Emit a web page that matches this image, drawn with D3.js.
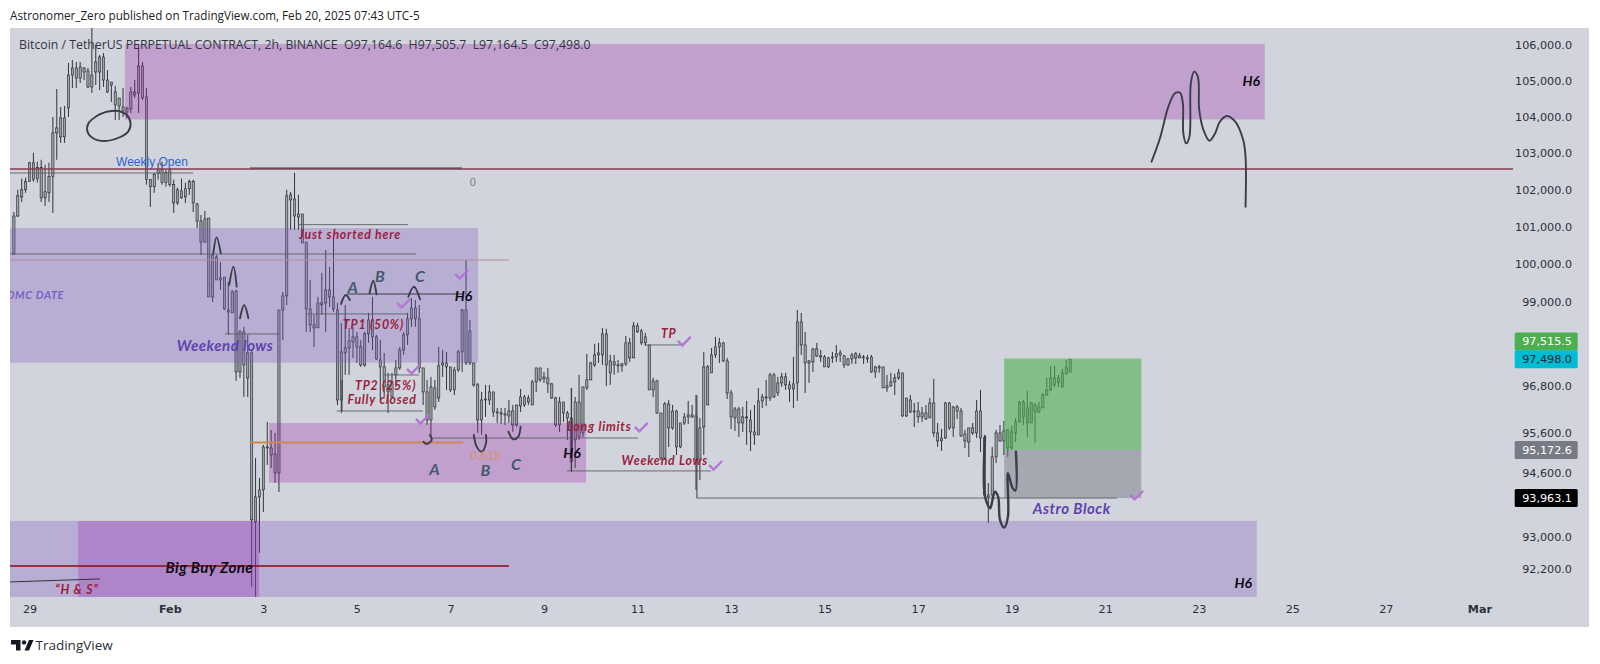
<!DOCTYPE html>
<html>
<head>
<meta charset="utf-8">
<title>BTCUSDT 2h</title>
<script src="https://cdn.jsdelivr.net/npm/d3@7"></script>
<style>
    html, body { margin: 0; background: #fff; }
    svg { display: block; }
    .axis text { font-family: "DejaVu Sans", sans-serif; font-size: 11.2px; fill: #2e3038; }
    .axis path, .axis line { display: none; }
</style>
</head>
<body>
<div id="graph"></div>
<script>
// days are counted from Jan 29 00:00, one bar is two hours
const firstBarDay = -1 / 3;

const opens = [
    100267,101285,101800,101994,102215,102730,102297,102595,101775,101912,102351,103550,
    103440,103962,104238,105157,105353,105073,105353,105269,104822,105241,105241,105662,
    105017,104961,104683,104516,104266,104128,104211,104600,104655,105409,104544,102270,
    102077,102432,102540,102188,102540,102132,101638,101967,101802,102022,102215,101611,
    101150,100587,101231,99127,100187,99576,99655,98785,98707,99285,97170,98210,
    97662,97662,93991,93991,94166,95224,95224,95072,94592,98785,99154,101720,
    101747,101340,101340,100587,98812,98392,98314,98917,98970,99312,99127,98785,
    96447,97792,97792,97949,98079,97818,97350,98157,98523,98079,97480,97299,
    96835,96525,97093,97273,97740,98132,98549,98838,98549,97273,96654,95936,
    96757,96498,97350,97402,97299,96705,97222,97688,98785,97402,97402,96835,
    95936,96447,96447,96654,96140,96114,96089,96038,96165,95808,96293,96525,
    96396,96319,96912,97273,96990,97015,96860,96498,95808,96396,96114,95987,
    95427,96396,95605,96757,96964,97350,97610,97610,98157,97454,97350,97350,
    97325,97376,97923,97532,98366,98236,97923,97870,96705,96938,96114,94970,
    96345,95732,96165,95249,95859,96012,96063,96038,94920,95757,97299,97145,
    97610,97818,97923,97454,96628,95987,96216,95859,96012,95936,95554,95554,
    96422,96498,96498,97093,96628,96886,97041,96835,96731,96886,98471,97870,
    97402,97428,97766,97584,97558,97299,97532,97558,97610,97584,97350,97506,
    97636,97532,97558,97532,97558,97170,97299,97299,96757,96809,96912,97015,
    97145,96038,96447,96140,96165,96012,96114,95987,96370,95605,95401,95477,
    96370,95732,96268,96165,95401,95732,95605,95605,96165,95477,93991,94041,
    94996,95605,95401,95681,95224,95605,95885,96396,96242,95859,96319,96140,
    96242,96576,96705,97015,96886,96783,97119,97164.6
];
const highs = [
    101393,101994,102297,102324,102758,103003,102758,102812,102676,102730,103990,104766,
    104266,104294,105494,105578,105522,105522,105381,105353,106480,106000,105718,105775,
    105297,104961,104850,104516,104794,104266,104822,105017,106000,105522,104794,102270,
    102459,102730,102758,102540,102595,102270,102049,102297,102188,102270,102270,101638,
    101312,101420,101231,100293,100240,100054,99655,99523,99312,99312,98262,98340,
    98132,97740,94970,94466,95300,95885,95681,95605,98785,99259,101994,101940,
    102459,101857,101340,100587,99576,98654,99127,99761,100373,99921,100694,98970,
    98445,98917,98314,98340,98210,98001,98210,98707,99127,98132,98001,97662,
    97145,97145,97480,97818,98210,98707,99100,99048,98917,97273,96964,97041,
    96964,97818,97740,97688,97299,97299,97740,98812,100107,98523,97402,96886,
    96654,96835,96835,96654,96242,96242,96242,96447,96319,96319,96731,96576,
    96576,96964,97273,97273,97170,97273,96886,96525,96525,96396,96165,96757,
    96525,97093,96783,97636,97428,97896,97923,98314,98288,97610,97610,97480,
    97402,98106,98053,98471,98445,98288,98184,97870,97015,96964,96114,96396,
    96447,96319,96191,95859,96114,96422,96319,96576,95987,97688,97350,97792,
    98079,98053,97949,97532,96705,96268,96268,96268,96422,96191,96319,96757,
    96602,96964,97145,97145,97041,97145,97145,96938,97558,98785,98707,98210,
    97480,97792,97923,97740,97610,97558,97688,97870,97740,97610,97532,97662,
    97688,97662,97610,97610,97610,97325,97350,97299,97093,97145,97119,97248,
    97145,96498,96576,96370,96396,96268,96319,96498,96990,95859,95706,96396,
    96396,96293,96319,96242,95681,95732,95859,96447,96705,95554,94340,95249,
    95681,95808,95910,95706,95783,95987,96422,96447,96680,96396,96370,96396,
    96628,97015,97325,97325,97093,97248,97480,97505.7
];
const lows = [
    100240,101258,101665,101912,102215,102215,102188,101665,101556,101665,101366,102812,
    103276,103276,103990,104794,104794,104933,105017,104794,104655,104877,104738,104822,
    104655,104405,103907,103907,103990,103962,104100,104516,104100,104461,102132,101529,
    101912,102270,102132,102077,102077,101366,101583,101747,101638,101857,101393,100962,
    100240,100560,99127,98995,99576,99312,98785,98132,98707,96938,97015,96525,
    96525,91770,91526,92602,93617,94794,94718,94340,94116,98001,98917,100908,
    100908,100908,100560,98210,98210,97818,98314,98654,98210,98864,98733,96319,
    96114,97093,97093,97532,97402,97299,97299,97923,97740,97480,96447,96525,
    96114,96498,96783,97222,97610,97870,98340,98340,97145,96319,95808,95503,
    96191,96396,97041,96705,96654,96576,97170,97170,97350,97350,96783,95605,
    95554,96012,96319,96012,95859,95834,95808,95859,95632,95757,96140,96268,
    96319,96319,96654,96912,96886,96628,96473,95757,95630,95885,95427,94617,
    94718,95427,95503,96705,96964,97299,97402,97350,96809,96835,97093,97145,
    97170,97325,97428,97532,98184,97870,97844,96705,96525,96089,94920,94920,
    95249,95681,95046,95224,95808,95834,95987,94166,94416,95046,96319,97145,
    97532,97402,97428,96473,95706,95655,95503,95630,95300,95148,95300,95554,
    96242,96293,96422,96498,96550,96783,96705,96396,96242,96422,97610,96628,
    96886,97170,97558,97428,97299,97273,97402,97428,97428,97273,97325,97376,
    97376,97532,97376,97402,97145,97015,97145,96757,96654,96783,96576,96964,
    96012,96012,96114,95757,95859,95885,95936,95987,95503,95249,95148,95452,
    95681,95503,95961,95503,95224,94996,95554,95477,95122,93991,93344,93991,
    94844,95376,95046,94996,95173,95376,95859,95808,95503,95859,95351,96114,
    96242,96550,96680,96783,96783,96757,97093,97164.5
];
const closes = [
    101285,101830,101994,102215,102730,102270,102595,101775,101940,102351,103550,103687,
    103962,103440,105157,105353,105073,105381,105241,104822,105157,105522,105662,105017,
    104683,104877,104322,104294,104155,104238,104683,104683,105409,104516,102270,102077,
    102405,102540,102188,102459,102132,101638,101994,101775,102022,102215,101638,101150,
    100587,101204,99127,100240,99576,99629,98812,98733,99259,97170,98210,97350,
    97015,93419,93369,94166,95249,95249,95046,94592,98785,99154,101830,101857,
    101285,101258,100560,98812,98392,98314,98970,98970,99312,99127,98812,96447,
    97688,97662,97975,98079,97818,97350,98157,98523,98079,97506,97299,96783,
    96654,96912,97273,97740,98132,98549,98838,98549,97273,96654,95936,96783,
    96268,97325,97402,97299,96705,97222,97688,98785,97402,98236,96835,95936,
    96447,96473,96654,96140,96114,96089,96063,96165,95808,96319,96525,96319,
    96498,96912,97273,96964,97041,96860,96498,95808,96396,96114,95987,94870,
    96396,95503,96783,96964,97402,97610,97662,98157,97350,97145,97428,97325,
    97376,97923,97532,98366,98210,97923,98079,96705,96938,96114,94970,96345,
    95732,96165,95249,95859,96012,96063,96012,94920,95732,97299,96319,97610,
    97818,97923,97454,96628,96012,96216,95859,96012,95987,95630,95630,96422,
    96525,96525,97093,96525,96886,97041,96835,96731,96860,98471,97870,97402,
    97454,97766,97584,97558,97299,97532,97558,97636,97662,97350,97506,97610,
    97532,97584,97532,97506,97170,97299,97273,96757,96809,96912,97015,97145,
    96038,96498,96140,96165,96012,96114,95961,96370,95605,95401,95477,96370,
    95732,96268,96165,95528,95579,95376,95732,96165,95477,94041,94041,94996,
    95605,95401,95655,95224,95630,95885,96396,96012,95859,96370,96140,96268,
    96576,96705,97015,96835,97015,97145,97273,97498
];

// axis ticks
const priceTicks = [106000, 105000, 104000, 103000, 102000, 101000, 100000, 99000, 96800, 95600, 94600, 93000, 92200];
const dayTickLabels = ["29", "Feb", "3", "5", "7", "9", "11", "13", "15", "17", "19", "21", "23", "25", "27", "Mar"];
const dayTickValues = [0, 3, 5, 7, 9, 11, 13, 15, 17, 19, 21, 23, 25, 27, 29, 31];

// highlighted zones on the chart
const zoneKinds = ["pink", "violet", "pink", "violet", "pink", "green", "grey"];
const zoneFrom = [2.04, -0.42, 5.12, -0.42, 1.04, 20.84, 20.84];
const zoneTo = [26.41, 9.59, 11.90, 26.24, 4.91, 23.77, 23.77];
const zoneHigh = [106028, 100963, 95859, 93392, 93392, 97515.5, 95172.6];
const zoneLow = [103920, 97409, 94349, 91522, 91522, 95172.6, 93963.1];

// horizontal levels
const levelKinds = ["red", "grey", "dark", "grey", "rose", "grey", "dark", "grey", "grey", "grey", "grey", "orange", "grey", "grey", "grey", "grey", "maroon"];
const levelPrices = [102560, 102451, 102588, 100267, 100106, 101053, 99206, 98680, 97091, 96165, 98156, 95359, 95476, 94643, 97869, 93963.1, 92280];
const levelFrom = [-0.42, -0.42, 4.71, -0.42, -0.42, 5.74, 6.79, 5.93, 7.56, 6.57, 4.18, 4.71, 8.60, 11.49, 13.18, 14.27, -0.42];
const levelTo = [31.73, 3.50, 9.25, 8.26, 10.25, 8.09, 9.27, 8.09, 8.33, 8.41, 5.36, 9.27, 13.01, 14.57, 13.97, 23.25, 10.25];

// vertical strokes next to the levels, and the H & S trend line
const stemDays = [11.59, 14.27, 6.68];
const stemTop = [96756, 96576, 96962];
const stemBottom = [94643, 93963.1, 96165];
const trendDays = [-0.42, 1.51];
const trendPrices = [91889, 91962];

// hand drawn strokes
const scribbleDays = [
    [23.99,24.17,24.35,24.49,24.60,24.66,24.67,24.73,24.80,24.83,24.90,24.98,25.01,25.10,25.23,25.35,25.45,25.60,25.78,25.95,26.00,26.00],
    [1.65,1.90,2.08,2.16,2.11,1.93,1.61,1.36,1.24,1.26,1.44,1.65],
    [3.93,4.00,4.09],
    [4.27,4.36,4.43],
    [4.50,4.59,4.68],
    [6.66,6.76,6.85],
    [7.27,7.35,7.42],
    [8.10,8.22,8.35],
    [8.56,8.60,8.49,8.42],
    [9.50,9.56,9.67,9.76,9.76],
    [10.24,10.34,10.45,10.50],
    [20.43,20.43,20.54,20.59,20.64,20.71,20.75,20.84,20.92,20.92,21.02,21.08,21.09]
];
const scribblePrices = [
    [102760,103402,104275,104646,104663,104369,103539,103264,103446,104925,105250,105110,104183,103630,103335,103539,103859,104017,103859,103355,102897,101536],
    [104135,104154,104044,103815,103584,103430,103327,103402,103584,103815,104017,104135],
    [100285,100710,100285],
    [99447,99930,99402],
    [98568,98917,98568],
    [98943,99180,99048],
    [99224,99556,99197],
    [99135,99398,99066],
    [95554,95426,95325,95383],
    [95554,95257,95130,95342,95554],
    [95637,95444,95510,95764],
    [95510,93999,93708,93916,94124,93999,93420,93230,93502,94586,94210,94150,95130]
];

// check marks
const checkDays = [9.23, 7.99, 8.20, 8.39, 13.07, 14.66, 13.99, 23.66];
const checkPrices = [99709, 98943, 97220, 95936, 95733, 94768, 97947, 94016];

// text on the chart
const noteTexts = ["Weekly Open", "Just shorted here", "FOMC DATE", "Weekend lows", "A", "B", "C", "H6", "TP1 (50%)", "TP2 (25%)", "Fully closed", "A", "B", "C", "0.618", "H6", "Long limits", "Weekend Lows", "TP", "Astro Block", "H6", "H6", "Big Buy Zone", "\u201CH & S\u201D", "0"];
const noteKinds = ["blue", "red", "date", "purple", "letter", "letter", "letter", "h6", "red", "red", "red", "letter", "letter", "letter", "fib", "h6", "red", "red", "red", "purple", "h6", "h6", "buy", "red", "zero"];
const noteDays = [1.85, 5.76, 0.74, 3.15, 6.91, 7.49, 8.35, 9.28, 6.70, 6.96, 6.80, 8.66, 9.75, 10.40, 9.43, 11.60, 11.49, 12.66, 13.50, 21.45, 26.12, 25.95, 2.91, 0.55, 9.48];
const notePrices = [102752, 100775, 99180, 97844, 99382, 99682, 99682, 99161, 98393, 96816, 96465, 94687, 94650, 94812, 95021, 95105, 95757, 94902, 98156, 93691, 104981, 91865, 92230, 91695, 102206];

// price tags on the axis
const tagValues = [97515.5, 97498.0, 95172.6, 93963.1];
const tagKinds = ["target", "last", "entry", "stop"];

// title text
const pageTitle = "Astronomer_Zero published on TradingView.com, Feb 20, 2025 07:43 UTC-5";
const symbolTitle = "Bitcoin / TetherUS PERPETUAL CONTRACT, 2h, BINANCE  O97,164.6  H97,505.7  L97,164.5  C97,498.0";

const width = 1600, height = 664;
const paneLeft = 10, paneRight = 1589, paneTop = 28, paneBottom = 597, paneEnd = 627;

const x = d3.scaleLinear().domain([0, 31]).range([29.5, 1479.4]);
const y = d3.scaleLog().domain([106000, 91453]).range([45, 599.8]);

const zoneFill = {
    pink: ["rgb(156,39,176)", 0.3],
    violet: ["rgb(126,87,194)", 0.3],
    green: ["rgb(76,175,80)", 0.6],
    grey: ["rgb(120,123,134)", 0.5]
};
const levelStyle = {
    red: ["#8a3b4c", 1.3],
    grey: ["#5d5f68", 0.9],
    dark: ["#3a3a40", 1.1],
    rose: ["#b88a94", 1.2],
    orange: ["#cc8a4c", 2],
    maroon: ["#8b0a12", 1.4]
};
const noteStyle = {
    blue: { font: "Liberation Sans", size: 12, fill: "#2f62cc", weight: 400, style: "normal" },
    red: { font: "Lato", size: 12.3, fill: "#9a1f3c", weight: 700, style: "italic", spacing: 0.8 },
    date: { font: "Lato", size: 11, fill: "#7a60c4", weight: 700, style: "italic", spacing: 0.6, anchor: "end" },
    purple: { font: "Lato", size: 15, fill: "#5f43ad", weight: 700, style: "italic", spacing: 0.5 },
    letter: { font: "Lato", size: 16, fill: "#425a6c", weight: 700, style: "italic", anchor: "middle" },
    h6: { font: "Lato", size: 14, fill: "#0c0c12", weight: 700, style: "italic", anchor: "middle" },
    fib: { font: "Liberation Sans", size: 12, fill: "#d59468", weight: 400, style: "normal" },
    buy: { font: "Lato", size: 15, fill: "#0c0c12", weight: 700, style: "italic", spacing: 0.4 },
    zero: { font: "Liberation Sans", size: 11, fill: "#787b86", weight: 400, style: "normal", anchor: "middle" }
};
const tagStyle = {
    target: ["#4caf50", "#fff"],
    last: ["#00bcd4", "#10262c"],
    entry: ["#787b86", "#fff"],
    stop: ["#000", "#fff"]
};
// the target tag is pushed up so the two close tags stack
const tagShift = { target: -17, last: 0, entry: 0, stop: 0 };

const bars = d3.range(closes.length).map(i => ({
    day: firstBarDay + i / 12,
    open: opens[i],
    high: highs[i],
    low: lows[i],
    close: closes[i]
}));

const svg = d3.select("#graph").append("svg")
    .attr("width", width)
    .attr("height", height)
    .attr("viewBox", `0 0 ${width} ${height}`);

svg.append("rect")
    .attr("x", paneLeft).attr("y", paneTop)
    .attr("width", paneRight - paneLeft).attr("height", paneEnd - paneTop)
    .attr("fill", "#d1d4dc");

svg.append("clipPath").attr("id", "pane").append("rect")
    .attr("x", paneLeft).attr("y", paneTop)
    .attr("width", 1513 - paneLeft).attr("height", paneBottom - paneTop);

const plot = svg.append("g").attr("clip-path", "url(#pane)");

// candles first, the drawings sit on top of them
const candle = plot.append("g").selectAll("g").data(bars).join("g");
candle.append("line")
    .attr("x1", d => x(d.day)).attr("x2", d => x(d.day))
    .attr("y1", d => y(d.high)).attr("y2", d => y(d.low))
    .attr("stroke", "#16171b").attr("stroke-width", 0.85);
candle.append("rect")
    .attr("x", d => x(d.day) - 1.1)
    .attr("width", 2.2)
    .attr("y", d => y(Math.max(d.open, d.close)))
    .attr("height", d => Math.max(0.8, Math.abs(y(d.open) - y(d.close))))
    .attr("fill", "#9aa5a5")
    .attr("stroke", "#16171b")
    .attr("stroke-width", 0.55);

zoneKinds.forEach((kind, i) => {
    plot.append("rect")
        .attr("x", x(zoneFrom[i]))
        .attr("width", x(zoneTo[i]) - x(zoneFrom[i]))
        .attr("y", y(zoneHigh[i]))
        .attr("height", y(zoneLow[i]) - y(zoneHigh[i]))
        .attr("fill", zoneFill[kind][0])
        .attr("fill-opacity", zoneFill[kind][1]);
});

levelKinds.forEach((kind, i) => {
    plot.append("line")
        .attr("x1", x(levelFrom[i])).attr("x2", x(levelTo[i]))
        .attr("y1", y(levelPrices[i])).attr("y2", y(levelPrices[i]))
        .attr("stroke", levelStyle[kind][0])
        .attr("stroke-width", levelStyle[kind][1]);
});

stemDays.forEach((day, i) => {
    plot.append("line")
        .attr("x1", x(day)).attr("x2", x(day))
        .attr("y1", y(stemTop[i])).attr("y2", y(stemBottom[i]))
        .attr("stroke", "#3a3a40").attr("stroke-width", 1);
});

plot.append("line")
    .attr("x1", x(trendDays[0])).attr("x2", x(trendDays[1]))
    .attr("y1", y(trendPrices[0])).attr("y2", y(trendPrices[1]))
    .attr("stroke", "#33333c").attr("stroke-width", 1);

const scribble = d3.line()
    .x(d => x(d[0]))
    .y(d => y(d[1]))
    .curve(d3.curveCatmullRom.alpha(0.5));

scribbleDays.forEach((days, i) => {
    plot.append("path")
        .attr("d", scribble(days.map((d, j) => [d, scribblePrices[i][j]])))
        .attr("fill", "none")
        .attr("stroke", "#3b3d48")
        .attr("stroke-width", i === 11 ? 2.4 : 1.9)
        .attr("stroke-linecap", "round");
});

checkDays.forEach((day, i) => {
    const cx = x(day), cy = y(checkPrices[i]);
    plot.append("path")
        .attr("d", d3.line()([[cx - 6, cy - 1], [cx - 1.5, cy + 3.5], [cx + 7, cy - 5]]))
        .attr("fill", "none")
        .attr("stroke", "#b477d3")
        .attr("stroke-width", 2.4);
});

noteTexts.forEach((text, i) => {
    const s = noteStyle[noteKinds[i]];
    plot.append("text")
        .attr("x", x(noteDays[i]))
        .attr("y", y(notePrices[i]))
        .attr("dy", "0.35em")
        .attr("text-anchor", s.anchor || "start")
        .attr("font-family", `"${s.font}", sans-serif`)
        .attr("font-size", s.size)
        .attr("font-weight", s.weight)
        .attr("font-style", s.style)
        .attr("letter-spacing", s.spacing || 0)
        .attr("fill", s.fill)
        .text(text);
});

// axes
svg.append("g")
    .attr("class", "axis")
    .attr("transform", "translate(1572,0)")
    .call(d3.axisRight(y).tickValues(priceTicks).tickSize(0).tickPadding(0).tickFormat(d3.format(",.1f")))
    .call(g => g.selectAll("text").attr("text-anchor", "end"));

svg.append("g")
    .attr("class", "axis")
    .attr("transform", `translate(0,${paneBottom + 8})`)
    .call(d3.axisBottom(x).tickValues(dayTickValues).tickSize(0).tickPadding(0)
        .tickFormat((d, i) => dayTickLabels[i]))
    .call(g => g.selectAll("text")
        .attr("font-weight", (d, i) => dayTickLabels[i] === "Feb" || dayTickLabels[i] === "Mar" ? 700 : 400));

tagValues.forEach((value, i) => {
    const s = tagStyle[tagKinds[i]];
    const tag = svg.append("g").attr("transform", `translate(1514.7,${y(value) + tagShift[tagKinds[i]]})`);
    tag.append("rect")
        .attr("y", -9).attr("width", 63).attr("height", 18)
        .attr("rx", 1.5)
        .attr("fill", s[0]);
    tag.append("text")
        .attr("x", 57.3).attr("dy", "0.35em")
        .attr("text-anchor", "end")
        .attr("font-family", '"DejaVu Sans", sans-serif')
        .attr("font-size", 11.2)
        .attr("fill", s[1])
        .text(d3.format(",.1f")(value));
});

// titles and logo
svg.append("text")
    .attr("x", paneLeft).attr("y", 20)
    .attr("font-family", '"Open Sans", sans-serif').attr("font-size", 11.7)
    .attr("fill", "#202228")
    .text(pageTitle);

svg.append("text")
    .attr("x", 19).attr("y", 49)
    .attr("font-family", '"Open Sans", sans-serif').attr("font-size", 12.3)
    .attr("fill", "#333640")
    .style("white-space", "pre")
    .text(symbolTitle);

svg.append("path")
    .attr("d", "M11 640h9.5v10.5h-4.5v-6h-5z M29 640h4.5l-4.5 10.5h-4.5z")
    .attr("fill", "#131722");
svg.append("circle").attr("cx", 24).attr("cy", 642.4).attr("r", 2.2).attr("fill", "#131722");
svg.append("text")
    .attr("x", 35.5).attr("y", 650)
    .attr("font-family", '"Open Sans", sans-serif').attr("font-size", 13.5)
    .attr("fill", "#2a2e39")
    .text("TradingView");
</script>
</body>
</html>
